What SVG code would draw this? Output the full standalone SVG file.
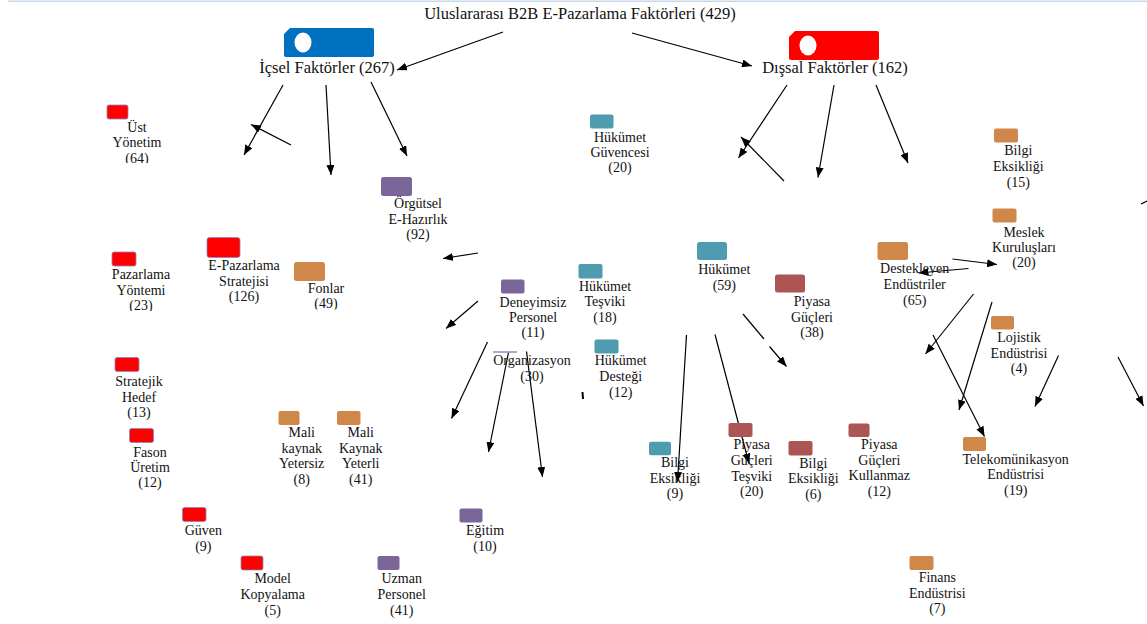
<svg xmlns="http://www.w3.org/2000/svg" width="1147" height="624" viewBox="0 0 1147 624">
<defs>
<marker id="ah" viewBox="0 0 10 8" refX="10" refY="4" markerWidth="10" markerHeight="8" markerUnits="userSpaceOnUse" orient="auto"><path d="M0,0 L10,4 L0,8 z" fill="#000"/></marker>
<clipPath id="clip64"><rect x="0" y="0" width="300" height="163"/></clipPath>
<clipPath id="clip23"><rect x="0" y="0" width="300" height="311"/></clipPath>
<clipPath id="clip49"><rect x="0" y="0" width="400" height="309.5"/></clipPath>
</defs>
<style>
text{font-family:"Liberation Serif","Times New Roman",serif;font-size:14px;fill:#111;text-anchor:middle}
.hd{font-size:16.5px}
.red{fill:#FF0000;stroke:#8a86c4;stroke-width:0.8}
.blue{fill:#0070C0}
.pur{fill:#7B6699}
.teal{fill:#4F9BB0}
.org{fill:#D0874A}
.dred{fill:#AD5454}
#connectors line{stroke:#000;stroke-width:1.2;marker-end:url(#ah)}
#connectors line.plain{marker-end:none}
</style>
<rect width="1147" height="624" fill="#fff"/>
<line x1="8" y1="1.2" x2="1147" y2="1.2" stroke="#c6d6e9" stroke-width="1.5"/>

<g id="connectors">
<line x1="503" y1="32" x2="397" y2="70"/>
<line x1="632" y1="33" x2="752" y2="66"/>
<line x1="283" y1="85" x2="244" y2="155"/>
<line x1="291" y1="145" x2="251" y2="124.5"/>
<line x1="326" y1="85" x2="331" y2="175"/>
<line x1="371" y1="82" x2="407" y2="156"/>
<line x1="787" y1="85" x2="738.5" y2="158"/>
<line x1="784" y1="181" x2="741" y2="137"/>
<line x1="834" y1="85" x2="818" y2="177.5"/>
<line x1="876" y1="85" x2="908" y2="163"/>
<line x1="478" y1="253" x2="443" y2="258.5"/>
<line x1="478" y1="301" x2="446" y2="328.5"/>
<line x1="487.5" y1="342" x2="451.5" y2="418.5"/>
<line x1="508.5" y1="352.5" x2="488.5" y2="452"/>
<line x1="526.5" y1="351.5" x2="542.5" y2="477"/>
<line x1="686.5" y1="335" x2="677.5" y2="482"/>
<line x1="715" y1="334.5" x2="749" y2="463.5"/>
<line class="plain" x1="743" y1="314" x2="764" y2="339"/>
<line x1="769.5" y1="346.5" x2="786.5" y2="366.5"/>
<line x1="952.5" y1="259" x2="997" y2="264.5"/>
<line x1="968.5" y1="268.5" x2="918.5" y2="273"/>
<line x1="973.5" y1="294" x2="925.5" y2="354"/>
<line x1="992" y1="302" x2="959" y2="410"/>
<line x1="933" y1="335" x2="984.5" y2="436.5"/>
<line x1="1058.5" y1="355.5" x2="1035" y2="406.5"/>
<line x1="1118" y1="357" x2="1143.5" y2="406"/>
<line class="plain" x1="1141" y1="204" x2="1147" y2="201"/>
<line class="plain" x1="582.5" y1="392" x2="583" y2="399" style="stroke-width:2"/>
</g>

<g id="n-root"><text class="hd" x="580" y="19">Uluslararası B2B E-Pazarlama Faktörleri (429)</text></g>

<g id="n-icsel">
<path class="blue" d="M290,28 H372 Q374,28 374,30 V55 Q374,57 372,57 H286 Q284,57 284,55 V34 Z"/>
<ellipse cx="303" cy="42.5" rx="8.5" ry="10" fill="#fff"/>
<text class="hd" x="327" y="73">İçsel Faktörler (267)</text>
</g>
<g id="n-dissal">
<path fill="#FF0000" d="M795,31 H877 Q879,31 879,33 V58 Q879,60 877,60 H791 Q789,60 789,58 V37 Z"/>
<ellipse cx="808" cy="45.5" rx="8.5" ry="10" fill="#fff"/>
<text class="hd" x="835" y="73">Dışsal Faktörler (162)</text>
</g>

<g id="n-ust"><rect class="red" x="107" y="105" width="21" height="14" rx="2"/>
<text x="137" clip-path="url(#clip64)"><tspan x="137" y="131.5">Üst</tspan><tspan x="137" y="147">Yönetim</tspan><tspan x="137" y="162.5">(64)</tspan></text></g>

<g id="n-pazarlama"><rect class="red" x="112" y="252" width="24" height="14" rx="2"/>
<text clip-path="url(#clip23)"><tspan x="141" y="279">Pazarlama</tspan><tspan x="141" y="294.7">Yöntemi</tspan><tspan x="141" y="310">(23)</tspan></text></g>

<g id="n-estrateji"><rect class="red" x="207" y="237.5" width="33" height="20" rx="2.5"/>
<text><tspan x="244" y="270">E-Pazarlama</tspan><tspan x="244" y="285.5">Stratejisi</tspan><tspan x="244" y="301">(126)</tspan></text></g>

<g id="n-fonlar"><rect class="org" x="294" y="262" width="31" height="19" rx="2.5"/>
<text clip-path="url(#clip49)"><tspan x="326" y="292.7">Fonlar</tspan><tspan x="326" y="308">(49)</tspan></text></g>

<g id="n-orgutsel"><rect class="pur" x="381" y="177" width="31" height="19" rx="2.5"/>
<text><tspan x="418" y="208">Örgütsel</tspan><tspan x="418" y="223.5">E-Hazırlık</tspan><tspan x="418" y="239">(92)</tspan></text></g>

<g id="n-stratejik"><rect class="red" x="115" y="357.5" width="24" height="14" rx="2"/>
<text><tspan x="139" y="386">Stratejik</tspan><tspan x="139" y="401.7">Hedef</tspan><tspan x="139" y="417.3">(13)</tspan></text></g>

<g id="n-fason"><rect class="red" x="129.5" y="428.5" width="24" height="14" rx="2"/>
<text><tspan x="150" y="456.7">Fason</tspan><tspan x="150" y="471.7">Üretim</tspan><tspan x="150" y="487.3">(12)</tspan></text></g>

<g id="n-maliyetersiz"><rect class="org" x="278.5" y="411" width="21" height="14" rx="2"/>
<text><tspan x="301.7" y="437.3">Mali</tspan><tspan x="301.7" y="452.7">kaynak</tspan><tspan x="301.7" y="468.3">Yetersiz</tspan><tspan x="301.7" y="484">(8)</tspan></text></g>

<g id="n-maliyeterli"><rect class="org" x="337" y="411" width="23.5" height="14" rx="2"/>
<text><tspan x="360.7" y="437.3">Mali</tspan><tspan x="360.7" y="452.7">Kaynak</tspan><tspan x="360.7" y="468.3">Yeterli</tspan><tspan x="360.7" y="484">(41)</tspan></text></g>

<g id="n-guven"><rect class="red" x="182.5" y="507.5" width="23.5" height="14" rx="2"/>
<text><tspan x="203.3" y="535">Güven</tspan><tspan x="203.3" y="550.7">(9)</tspan></text></g>

<g id="n-model"><rect class="red" x="241" y="556" width="22" height="14" rx="2"/>
<text><tspan x="272.7" y="583.3">Model</tspan><tspan x="272.7" y="599">Kopyalama</tspan><tspan x="272.7" y="615">(5)</tspan></text></g>

<g id="n-uzman"><rect class="pur" x="377.5" y="556" width="22" height="14" rx="2"/>
<text><tspan x="401.7" y="583.3">Uzman</tspan><tspan x="401.7" y="599">Personel</tspan><tspan x="401.7" y="615">(41)</tspan></text></g>

<g id="n-egitim"><rect class="pur" x="459.5" y="508.5" width="23" height="14" rx="2"/>
<text><tspan x="485" y="535">Eğitim</tspan><tspan x="485" y="550.7">(10)</tspan></text></g>

<g id="n-deneyimsiz"><rect class="pur" x="501" y="279.5" width="23.5" height="14" rx="2"/>
<text><tspan x="533" y="306.7">Deneyimsiz</tspan><tspan x="533" y="321.7">Personel</tspan><tspan x="533" y="337.3">(11)</tspan></text></g>

<g id="n-organizasyon"><line x1="493" y1="352" x2="517" y2="352" stroke="#9a86b8" stroke-width="1.5"/>
<text><tspan x="532" y="365">Organizasyon</tspan><tspan x="532" y="380.7">(30)</tspan></text></g>

<g id="n-hguvencesi"><rect class="teal" x="590" y="114.5" width="23.5" height="14" rx="2"/>
<text><tspan x="620" y="141.7">Hükümet</tspan><tspan x="620" y="156.7">Güvencesi</tspan><tspan x="620" y="172.3">(20)</tspan></text></g>

<g id="n-htesviki"><rect class="teal" x="578.5" y="264" width="24" height="14.5" rx="2"/>
<text><tspan x="605" y="290.7">Hükümet</tspan><tspan x="605" y="306">Teşviki</tspan><tspan x="605" y="322">(18)</tspan></text></g>

<g id="n-hdestegi"><rect class="teal" x="594.5" y="339.5" width="24" height="14" rx="2"/>
<text><tspan x="620.7" y="365">Hükümet</tspan><tspan x="620.7" y="380.7">Desteği</tspan><tspan x="620.7" y="396.7">(12)</tspan></text></g>

<g id="n-hukumet"><rect class="teal" x="697" y="242" width="30" height="18" rx="2.5"/>
<text><tspan x="724.3" y="274">Hükümet</tspan><tspan x="724.3" y="289.5">(59)</tspan></text></g>

<g id="n-piyasaguc"><rect class="dred" x="775" y="274.5" width="30" height="18" rx="2.5"/>
<text><tspan x="812" y="306">Piyasa</tspan><tspan x="812" y="321.7">Güçleri</tspan><tspan x="812" y="337">(38)</tspan></text></g>

<g id="n-bilgi9"><rect class="teal" x="649" y="441.7" width="22" height="13.5" rx="2"/>
<text><tspan x="675" y="466.7">Bilgi</tspan><tspan x="675" y="482.7">Eksikliği</tspan><tspan x="675" y="498.3">(9)</tspan></text></g>

<g id="n-pgtesviki"><rect class="dred" x="728.5" y="423" width="24" height="14" rx="2"/>
<text><tspan x="751.7" y="449">Piyasa</tspan><tspan x="751.7" y="465">Güçleri</tspan><tspan x="751.7" y="480.5">Teşviki</tspan><tspan x="751.7" y="496">(20)</tspan></text></g>

<g id="n-bilgi6"><rect class="dred" x="788.5" y="441" width="24" height="14.5" rx="2"/>
<text><tspan x="813.3" y="467.7">Bilgi</tspan><tspan x="813.3" y="483.3">Eksikliği</tspan><tspan x="813.3" y="499.3">(6)</tspan></text></g>

<g id="n-pgkullanmaz"><rect class="dred" x="848.5" y="423.5" width="21" height="13.5" rx="2"/>
<text><tspan x="879.3" y="449">Piyasa</tspan><tspan x="879.3" y="465">Güçleri</tspan><tspan x="879.3" y="480">Kullanmaz</tspan><tspan x="879.3" y="495.7">(12)</tspan></text></g>

<g id="n-bilgi15"><rect class="org" x="994" y="128.5" width="24" height="14" rx="2"/>
<text><tspan x="1018.3" y="155">Bilgi</tspan><tspan x="1018.3" y="170.7">Eksikliği</tspan><tspan x="1018.3" y="186.7">(15)</tspan></text></g>

<g id="n-meslek"><rect class="org" x="992.5" y="208.5" width="24" height="14" rx="2"/>
<text><tspan x="1024" y="236.7">Meslek</tspan><tspan x="1024" y="251.7">Kuruluşları</tspan><tspan x="1024" y="267.3">(20)</tspan></text></g>

<g id="n-destekleyen"><rect class="org" x="877.5" y="242" width="30.5" height="18" rx="2.5"/>
<text><tspan x="914.7" y="273.3">Destekleyen</tspan><tspan x="914.7" y="289">Endüstriler</tspan><tspan x="914.7" y="305">(65)</tspan></text></g>

<g id="n-lojistik"><rect class="org" x="991" y="316" width="23" height="13.5" rx="2"/>
<text><tspan x="1019" y="342.3">Lojistik</tspan><tspan x="1019" y="357.7">Endüstrisi</tspan><tspan x="1019" y="373.3">(4)</tspan></text></g>

<g id="n-telekom"><rect class="org" x="963" y="437" width="23" height="14" rx="2"/>
<text><tspan x="1015.7" y="464">Telekomünikasyon</tspan><tspan x="1015.7" y="479.3">Endüstrisi</tspan><tspan x="1015.7" y="495">(19)</tspan></text></g>

<g id="n-finans"><rect class="org" x="909.5" y="556" width="24" height="14" rx="2"/>
<text><tspan x="937.3" y="582.3">Finans</tspan><tspan x="937.3" y="597.7">Endüstrisi</tspan><tspan x="937.3" y="613.3">(7)</tspan></text></g>
</svg>
